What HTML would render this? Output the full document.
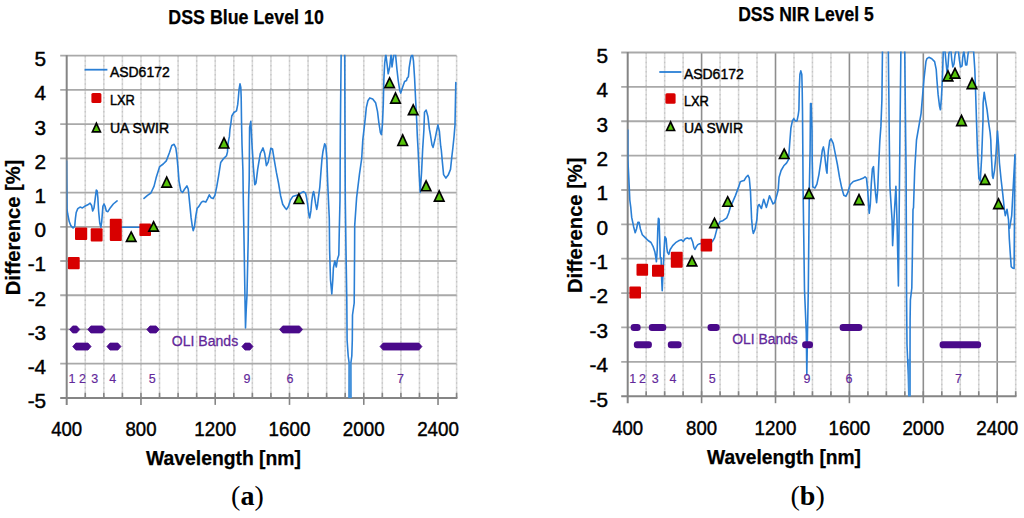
<!DOCTYPE html>
<html><head><meta charset="utf-8"><title>DSS Blue Level 10 / DSS NIR Level 5</title>
<style>html,body{margin:0;padding:0;background:#fff;overflow:hidden}svg{display:block}</style>
</head><body>
<svg width="1024" height="518" viewBox="0 0 1024 518">
<rect width="1024" height="518" fill="#fff"/>
<clipPath id="clipL"><rect x="66.7" y="54.7" width="390.9" height="343.2"/></clipPath>
<line x1="85.27" y1="55.7" x2="85.27" y2="397.9" stroke="#dcdcdc" stroke-width="1.6"/>
<line x1="85.27" y1="55.7" x2="85.27" y2="397.9" stroke="#c4c4c4" stroke-width="1.2" stroke-dasharray="1.5 3.1"/>
<line x1="103.83" y1="55.7" x2="103.83" y2="397.9" stroke="#dcdcdc" stroke-width="1.6"/>
<line x1="103.83" y1="55.7" x2="103.83" y2="397.9" stroke="#c4c4c4" stroke-width="1.2" stroke-dasharray="1.5 3.1"/>
<line x1="122.4" y1="55.7" x2="122.4" y2="397.9" stroke="#dcdcdc" stroke-width="1.6"/>
<line x1="122.4" y1="55.7" x2="122.4" y2="397.9" stroke="#c4c4c4" stroke-width="1.2" stroke-dasharray="1.5 3.1"/>
<line x1="140.97" y1="55.7" x2="140.97" y2="397.9" stroke="#dcdcdc" stroke-width="1.6"/>
<line x1="140.97" y1="55.7" x2="140.97" y2="397.9" stroke="#c4c4c4" stroke-width="1.2" stroke-dasharray="1.5 3.1"/>
<line x1="159.53" y1="55.7" x2="159.53" y2="397.9" stroke="#dcdcdc" stroke-width="1.6"/>
<line x1="159.53" y1="55.7" x2="159.53" y2="397.9" stroke="#c4c4c4" stroke-width="1.2" stroke-dasharray="1.5 3.1"/>
<line x1="178.1" y1="55.7" x2="178.1" y2="397.9" stroke="#dcdcdc" stroke-width="1.6"/>
<line x1="178.1" y1="55.7" x2="178.1" y2="397.9" stroke="#c4c4c4" stroke-width="1.2" stroke-dasharray="1.5 3.1"/>
<line x1="196.67" y1="55.7" x2="196.67" y2="397.9" stroke="#dcdcdc" stroke-width="1.6"/>
<line x1="196.67" y1="55.7" x2="196.67" y2="397.9" stroke="#c4c4c4" stroke-width="1.2" stroke-dasharray="1.5 3.1"/>
<line x1="215.23" y1="55.7" x2="215.23" y2="397.9" stroke="#dcdcdc" stroke-width="1.6"/>
<line x1="215.23" y1="55.7" x2="215.23" y2="397.9" stroke="#c4c4c4" stroke-width="1.2" stroke-dasharray="1.5 3.1"/>
<line x1="233.8" y1="55.7" x2="233.8" y2="397.9" stroke="#dcdcdc" stroke-width="1.6"/>
<line x1="233.8" y1="55.7" x2="233.8" y2="397.9" stroke="#c4c4c4" stroke-width="1.2" stroke-dasharray="1.5 3.1"/>
<line x1="252.37" y1="55.7" x2="252.37" y2="397.9" stroke="#dcdcdc" stroke-width="1.6"/>
<line x1="252.37" y1="55.7" x2="252.37" y2="397.9" stroke="#c4c4c4" stroke-width="1.2" stroke-dasharray="1.5 3.1"/>
<line x1="270.93" y1="55.7" x2="270.93" y2="397.9" stroke="#dcdcdc" stroke-width="1.6"/>
<line x1="270.93" y1="55.7" x2="270.93" y2="397.9" stroke="#c4c4c4" stroke-width="1.2" stroke-dasharray="1.5 3.1"/>
<line x1="289.5" y1="55.7" x2="289.5" y2="397.9" stroke="#dcdcdc" stroke-width="1.6"/>
<line x1="289.5" y1="55.7" x2="289.5" y2="397.9" stroke="#c4c4c4" stroke-width="1.2" stroke-dasharray="1.5 3.1"/>
<line x1="308.07" y1="55.7" x2="308.07" y2="397.9" stroke="#dcdcdc" stroke-width="1.6"/>
<line x1="308.07" y1="55.7" x2="308.07" y2="397.9" stroke="#c4c4c4" stroke-width="1.2" stroke-dasharray="1.5 3.1"/>
<line x1="326.63" y1="55.7" x2="326.63" y2="397.9" stroke="#dcdcdc" stroke-width="1.6"/>
<line x1="326.63" y1="55.7" x2="326.63" y2="397.9" stroke="#c4c4c4" stroke-width="1.2" stroke-dasharray="1.5 3.1"/>
<line x1="345.2" y1="55.7" x2="345.2" y2="397.9" stroke="#dcdcdc" stroke-width="1.6"/>
<line x1="345.2" y1="55.7" x2="345.2" y2="397.9" stroke="#c4c4c4" stroke-width="1.2" stroke-dasharray="1.5 3.1"/>
<line x1="363.77" y1="55.7" x2="363.77" y2="397.9" stroke="#dcdcdc" stroke-width="1.6"/>
<line x1="363.77" y1="55.7" x2="363.77" y2="397.9" stroke="#c4c4c4" stroke-width="1.2" stroke-dasharray="1.5 3.1"/>
<line x1="382.33" y1="55.7" x2="382.33" y2="397.9" stroke="#dcdcdc" stroke-width="1.6"/>
<line x1="382.33" y1="55.7" x2="382.33" y2="397.9" stroke="#c4c4c4" stroke-width="1.2" stroke-dasharray="1.5 3.1"/>
<line x1="400.9" y1="55.7" x2="400.9" y2="397.9" stroke="#dcdcdc" stroke-width="1.6"/>
<line x1="400.9" y1="55.7" x2="400.9" y2="397.9" stroke="#c4c4c4" stroke-width="1.2" stroke-dasharray="1.5 3.1"/>
<line x1="419.47" y1="55.7" x2="419.47" y2="397.9" stroke="#dcdcdc" stroke-width="1.6"/>
<line x1="419.47" y1="55.7" x2="419.47" y2="397.9" stroke="#c4c4c4" stroke-width="1.2" stroke-dasharray="1.5 3.1"/>
<line x1="438.03" y1="55.7" x2="438.03" y2="397.9" stroke="#dcdcdc" stroke-width="1.6"/>
<line x1="438.03" y1="55.7" x2="438.03" y2="397.9" stroke="#c4c4c4" stroke-width="1.2" stroke-dasharray="1.5 3.1"/>
<line x1="456.6" y1="55.7" x2="456.6" y2="397.9" stroke="#dcdcdc" stroke-width="1.6"/>
<line x1="456.6" y1="55.7" x2="456.6" y2="397.9" stroke="#c4c4c4" stroke-width="1.2" stroke-dasharray="1.5 3.1"/>
<line x1="60.2" y1="363.68" x2="456.6" y2="363.68" stroke="#a9a9a9" stroke-width="1.8"/>
<line x1="60.2" y1="329.46" x2="456.6" y2="329.46" stroke="#a9a9a9" stroke-width="1.8"/>
<line x1="60.2" y1="295.24" x2="456.6" y2="295.24" stroke="#a9a9a9" stroke-width="1.8"/>
<line x1="60.2" y1="261.02" x2="456.6" y2="261.02" stroke="#a9a9a9" stroke-width="1.8"/>
<line x1="60.2" y1="226.8" x2="456.6" y2="226.8" stroke="#a9a9a9" stroke-width="1.8"/>
<line x1="60.2" y1="192.58" x2="456.6" y2="192.58" stroke="#a9a9a9" stroke-width="1.8"/>
<line x1="60.2" y1="158.36" x2="456.6" y2="158.36" stroke="#a9a9a9" stroke-width="1.8"/>
<line x1="60.2" y1="124.14" x2="456.6" y2="124.14" stroke="#a9a9a9" stroke-width="1.8"/>
<line x1="60.2" y1="89.92" x2="456.6" y2="89.92" stroke="#a9a9a9" stroke-width="1.8"/>
<line x1="60.2" y1="55.7" x2="456.6" y2="55.7" stroke="#a9a9a9" stroke-width="1.8"/>
<line x1="66.7" y1="55.2" x2="66.7" y2="404.9" stroke="#858585" stroke-width="2"/>
<line x1="60.2" y1="397.9" x2="457.4" y2="397.9" stroke="#858585" stroke-width="2"/>
<line x1="85.27" y1="392.9" x2="85.27" y2="397.9" stroke="#858585" stroke-width="1.6"/>
<line x1="103.83" y1="392.9" x2="103.83" y2="397.9" stroke="#858585" stroke-width="1.6"/>
<line x1="122.4" y1="392.9" x2="122.4" y2="397.9" stroke="#858585" stroke-width="1.6"/>
<line x1="140.97" y1="392.9" x2="140.97" y2="404.9" stroke="#858585" stroke-width="1.6"/>
<line x1="159.53" y1="392.9" x2="159.53" y2="397.9" stroke="#858585" stroke-width="1.6"/>
<line x1="178.1" y1="392.9" x2="178.1" y2="397.9" stroke="#858585" stroke-width="1.6"/>
<line x1="196.67" y1="392.9" x2="196.67" y2="397.9" stroke="#858585" stroke-width="1.6"/>
<line x1="215.23" y1="392.9" x2="215.23" y2="404.9" stroke="#858585" stroke-width="1.6"/>
<line x1="233.8" y1="392.9" x2="233.8" y2="397.9" stroke="#858585" stroke-width="1.6"/>
<line x1="252.37" y1="392.9" x2="252.37" y2="397.9" stroke="#858585" stroke-width="1.6"/>
<line x1="270.93" y1="392.9" x2="270.93" y2="397.9" stroke="#858585" stroke-width="1.6"/>
<line x1="289.5" y1="392.9" x2="289.5" y2="404.9" stroke="#858585" stroke-width="1.6"/>
<line x1="308.07" y1="392.9" x2="308.07" y2="397.9" stroke="#858585" stroke-width="1.6"/>
<line x1="326.63" y1="392.9" x2="326.63" y2="397.9" stroke="#858585" stroke-width="1.6"/>
<line x1="345.2" y1="392.9" x2="345.2" y2="397.9" stroke="#858585" stroke-width="1.6"/>
<line x1="363.77" y1="392.9" x2="363.77" y2="404.9" stroke="#858585" stroke-width="1.6"/>
<line x1="382.33" y1="392.9" x2="382.33" y2="397.9" stroke="#858585" stroke-width="1.6"/>
<line x1="400.9" y1="392.9" x2="400.9" y2="397.9" stroke="#858585" stroke-width="1.6"/>
<line x1="419.47" y1="392.9" x2="419.47" y2="397.9" stroke="#858585" stroke-width="1.6"/>
<line x1="438.03" y1="392.9" x2="438.03" y2="404.9" stroke="#858585" stroke-width="1.6"/>
<line x1="456.6" y1="392.9" x2="456.6" y2="397.9" stroke="#858585" stroke-width="1.6"/>
<clipPath id="clipR"><rect x="627.7" y="51.5" width="389" height="344.7"/></clipPath>
<line x1="646.18" y1="52.5" x2="646.18" y2="396.2" stroke="#dcdcdc" stroke-width="1.6"/>
<line x1="646.18" y1="52.5" x2="646.18" y2="396.2" stroke="#c4c4c4" stroke-width="1.2" stroke-dasharray="1.5 3.1"/>
<line x1="664.65" y1="52.5" x2="664.65" y2="396.2" stroke="#dcdcdc" stroke-width="1.6"/>
<line x1="664.65" y1="52.5" x2="664.65" y2="396.2" stroke="#c4c4c4" stroke-width="1.2" stroke-dasharray="1.5 3.1"/>
<line x1="683.13" y1="52.5" x2="683.13" y2="396.2" stroke="#dcdcdc" stroke-width="1.6"/>
<line x1="683.13" y1="52.5" x2="683.13" y2="396.2" stroke="#c4c4c4" stroke-width="1.2" stroke-dasharray="1.5 3.1"/>
<line x1="701.6" y1="52.5" x2="701.6" y2="396.2" stroke="#8e8e8e" stroke-width="1.6"/>
<line x1="720.08" y1="52.5" x2="720.08" y2="396.2" stroke="#dcdcdc" stroke-width="1.6"/>
<line x1="720.08" y1="52.5" x2="720.08" y2="396.2" stroke="#c4c4c4" stroke-width="1.2" stroke-dasharray="1.5 3.1"/>
<line x1="738.56" y1="52.5" x2="738.56" y2="396.2" stroke="#dcdcdc" stroke-width="1.6"/>
<line x1="738.56" y1="52.5" x2="738.56" y2="396.2" stroke="#c4c4c4" stroke-width="1.2" stroke-dasharray="1.5 3.1"/>
<line x1="757.03" y1="52.5" x2="757.03" y2="396.2" stroke="#dcdcdc" stroke-width="1.6"/>
<line x1="757.03" y1="52.5" x2="757.03" y2="396.2" stroke="#c4c4c4" stroke-width="1.2" stroke-dasharray="1.5 3.1"/>
<line x1="775.51" y1="52.5" x2="775.51" y2="396.2" stroke="#8e8e8e" stroke-width="1.6"/>
<line x1="793.99" y1="52.5" x2="793.99" y2="396.2" stroke="#dcdcdc" stroke-width="1.6"/>
<line x1="793.99" y1="52.5" x2="793.99" y2="396.2" stroke="#c4c4c4" stroke-width="1.2" stroke-dasharray="1.5 3.1"/>
<line x1="812.46" y1="52.5" x2="812.46" y2="396.2" stroke="#dcdcdc" stroke-width="1.6"/>
<line x1="812.46" y1="52.5" x2="812.46" y2="396.2" stroke="#c4c4c4" stroke-width="1.2" stroke-dasharray="1.5 3.1"/>
<line x1="830.94" y1="52.5" x2="830.94" y2="396.2" stroke="#dcdcdc" stroke-width="1.6"/>
<line x1="830.94" y1="52.5" x2="830.94" y2="396.2" stroke="#c4c4c4" stroke-width="1.2" stroke-dasharray="1.5 3.1"/>
<line x1="849.41" y1="52.5" x2="849.41" y2="396.2" stroke="#8e8e8e" stroke-width="1.6"/>
<line x1="867.89" y1="52.5" x2="867.89" y2="396.2" stroke="#dcdcdc" stroke-width="1.6"/>
<line x1="867.89" y1="52.5" x2="867.89" y2="396.2" stroke="#c4c4c4" stroke-width="1.2" stroke-dasharray="1.5 3.1"/>
<line x1="886.37" y1="52.5" x2="886.37" y2="396.2" stroke="#dcdcdc" stroke-width="1.6"/>
<line x1="886.37" y1="52.5" x2="886.37" y2="396.2" stroke="#c4c4c4" stroke-width="1.2" stroke-dasharray="1.5 3.1"/>
<line x1="904.84" y1="52.5" x2="904.84" y2="396.2" stroke="#dcdcdc" stroke-width="1.6"/>
<line x1="904.84" y1="52.5" x2="904.84" y2="396.2" stroke="#c4c4c4" stroke-width="1.2" stroke-dasharray="1.5 3.1"/>
<line x1="923.32" y1="52.5" x2="923.32" y2="396.2" stroke="#8e8e8e" stroke-width="1.6"/>
<line x1="941.8" y1="52.5" x2="941.8" y2="396.2" stroke="#dcdcdc" stroke-width="1.6"/>
<line x1="941.8" y1="52.5" x2="941.8" y2="396.2" stroke="#c4c4c4" stroke-width="1.2" stroke-dasharray="1.5 3.1"/>
<line x1="960.27" y1="52.5" x2="960.27" y2="396.2" stroke="#dcdcdc" stroke-width="1.6"/>
<line x1="960.27" y1="52.5" x2="960.27" y2="396.2" stroke="#c4c4c4" stroke-width="1.2" stroke-dasharray="1.5 3.1"/>
<line x1="978.75" y1="52.5" x2="978.75" y2="396.2" stroke="#dcdcdc" stroke-width="1.6"/>
<line x1="978.75" y1="52.5" x2="978.75" y2="396.2" stroke="#c4c4c4" stroke-width="1.2" stroke-dasharray="1.5 3.1"/>
<line x1="997.22" y1="52.5" x2="997.22" y2="396.2" stroke="#8e8e8e" stroke-width="1.6"/>
<line x1="1015.7" y1="52.5" x2="1015.7" y2="396.2" stroke="#dcdcdc" stroke-width="1.6"/>
<line x1="1015.7" y1="52.5" x2="1015.7" y2="396.2" stroke="#c4c4c4" stroke-width="1.2" stroke-dasharray="1.5 3.1"/>
<line x1="621.2" y1="361.83" x2="1015.7" y2="361.83" stroke="#a9a9a9" stroke-width="1.8"/>
<line x1="621.2" y1="327.46" x2="1015.7" y2="327.46" stroke="#a9a9a9" stroke-width="1.8"/>
<line x1="621.2" y1="293.09" x2="1015.7" y2="293.09" stroke="#a9a9a9" stroke-width="1.8"/>
<line x1="621.2" y1="258.72" x2="1015.7" y2="258.72" stroke="#a9a9a9" stroke-width="1.8"/>
<line x1="621.2" y1="224.35" x2="1015.7" y2="224.35" stroke="#a9a9a9" stroke-width="1.8"/>
<line x1="621.2" y1="189.98" x2="1015.7" y2="189.98" stroke="#a9a9a9" stroke-width="1.8"/>
<line x1="621.2" y1="155.61" x2="1015.7" y2="155.61" stroke="#a9a9a9" stroke-width="1.8"/>
<line x1="621.2" y1="121.24" x2="1015.7" y2="121.24" stroke="#a9a9a9" stroke-width="1.8"/>
<line x1="621.2" y1="86.87" x2="1015.7" y2="86.87" stroke="#a9a9a9" stroke-width="1.8"/>
<line x1="621.2" y1="52.5" x2="1015.7" y2="52.5" stroke="#a9a9a9" stroke-width="1.8"/>
<line x1="627.7" y1="52" x2="627.7" y2="403.2" stroke="#858585" stroke-width="2"/>
<line x1="621.2" y1="396.2" x2="1016.5" y2="396.2" stroke="#858585" stroke-width="2"/>
<line x1="646.18" y1="391.2" x2="646.18" y2="396.2" stroke="#858585" stroke-width="1.6"/>
<line x1="664.65" y1="391.2" x2="664.65" y2="396.2" stroke="#858585" stroke-width="1.6"/>
<line x1="683.13" y1="391.2" x2="683.13" y2="396.2" stroke="#858585" stroke-width="1.6"/>
<line x1="701.6" y1="391.2" x2="701.6" y2="403.2" stroke="#858585" stroke-width="1.6"/>
<line x1="720.08" y1="391.2" x2="720.08" y2="396.2" stroke="#858585" stroke-width="1.6"/>
<line x1="738.56" y1="391.2" x2="738.56" y2="396.2" stroke="#858585" stroke-width="1.6"/>
<line x1="757.03" y1="391.2" x2="757.03" y2="396.2" stroke="#858585" stroke-width="1.6"/>
<line x1="775.51" y1="391.2" x2="775.51" y2="403.2" stroke="#858585" stroke-width="1.6"/>
<line x1="793.99" y1="391.2" x2="793.99" y2="396.2" stroke="#858585" stroke-width="1.6"/>
<line x1="812.46" y1="391.2" x2="812.46" y2="396.2" stroke="#858585" stroke-width="1.6"/>
<line x1="830.94" y1="391.2" x2="830.94" y2="396.2" stroke="#858585" stroke-width="1.6"/>
<line x1="849.41" y1="391.2" x2="849.41" y2="403.2" stroke="#858585" stroke-width="1.6"/>
<line x1="867.89" y1="391.2" x2="867.89" y2="396.2" stroke="#858585" stroke-width="1.6"/>
<line x1="886.37" y1="391.2" x2="886.37" y2="396.2" stroke="#858585" stroke-width="1.6"/>
<line x1="904.84" y1="391.2" x2="904.84" y2="396.2" stroke="#858585" stroke-width="1.6"/>
<line x1="923.32" y1="391.2" x2="923.32" y2="403.2" stroke="#858585" stroke-width="1.6"/>
<line x1="941.8" y1="391.2" x2="941.8" y2="396.2" stroke="#858585" stroke-width="1.6"/>
<line x1="960.27" y1="391.2" x2="960.27" y2="396.2" stroke="#858585" stroke-width="1.6"/>
<line x1="978.75" y1="391.2" x2="978.75" y2="396.2" stroke="#858585" stroke-width="1.6"/>
<line x1="997.22" y1="391.2" x2="997.22" y2="403.2" stroke="#858585" stroke-width="1.6"/>
<line x1="1015.7" y1="391.2" x2="1015.7" y2="396.2" stroke="#858585" stroke-width="1.6"/>
<line x1="84.6" y1="69.7" x2="107.4" y2="69.7" stroke="#2a7fd5" stroke-width="1.8"/>
<text x="109.9" y="76.7" font-size="15.2" font-family='"Liberation Sans", sans-serif' textLength="59.8" lengthAdjust="spacingAndGlyphs" fill="#000" stroke="#000" stroke-width="0.45">ASD6172</text>
<text x="109.9" y="104.9" font-size="15.2" font-family='"Liberation Sans", sans-serif' textLength="25" lengthAdjust="spacingAndGlyphs" fill="#000" stroke="#000" stroke-width="0.45">LXR</text>
<text x="109.9" y="133.2" font-size="15.2" font-family='"Liberation Sans", sans-serif' textLength="59.2" lengthAdjust="spacingAndGlyphs" fill="#000" stroke="#000" stroke-width="0.45">UA SWIR</text>
<rect x="91.4" y="93.0" width="10" height="10" rx="1.5" fill="#d80000"/>
<polygon points="96.4,121.2 101.7,132.7 91.1,132.7" fill="#000"/>
<polygon points="96.4,125.14 99.12,131.05 93.68,131.05" fill="#56c20a"/>
<line x1="659.3" y1="72.0" x2="681.4" y2="72.0" stroke="#2a7fd5" stroke-width="1.8"/>
<text x="683.9" y="78.9" font-size="15.2" font-family='"Liberation Sans", sans-serif' textLength="59.8" lengthAdjust="spacingAndGlyphs" fill="#000" stroke="#000" stroke-width="0.45">ASD6172</text>
<text x="683.9" y="105.9" font-size="15.2" font-family='"Liberation Sans", sans-serif' textLength="25" lengthAdjust="spacingAndGlyphs" fill="#000" stroke="#000" stroke-width="0.45">LXR</text>
<text x="683.9" y="133" font-size="15.2" font-family='"Liberation Sans", sans-serif' textLength="59.2" lengthAdjust="spacingAndGlyphs" fill="#000" stroke="#000" stroke-width="0.45">UA SWIR</text>
<rect x="665.4" y="93.2" width="10.2" height="10.6" rx="1.5" fill="#d80000"/>
<polygon points="670.6,120.1 675.9,131.3 665.3,131.3" fill="#000"/>
<polygon points="670.6,123.96 673.29,129.65 667.91,129.65" fill="#56c20a"/>
<polyline points="66.5,161 66.6,175 66.8,192.4 67,209.4 67.7,214 69.3,221.8 70.8,225.6 73.1,228 74.7,226.4 75.4,218.7 76.2,212.5 77.8,208.6 80.1,207.1 82.4,207.9 84.7,206.3 87.8,204.8 90.1,203.2 91.6,205.5 92.7,211 94,207.9 95.2,198.6 96.3,190.1 97.1,190.9 97.8,197 98.6,211 99.8,223.3 100.9,227.2 101.7,221.8 102.9,206.3 104,204 105.1,206.3 106.3,211 107.9,211.7 110.2,207.9 113.3,204 117.1,200.9" fill="none" stroke="#2a7fd5" stroke-width="1.6" stroke-linejoin="round" stroke-linecap="round" clip-path="url(#clipL)"/>
<polyline points="111,227.3 142,227.3" fill="none" stroke="#2a7fd5" stroke-width="1.6" stroke-linejoin="round" stroke-linecap="round" clip-path="url(#clipL)"/>
<polyline points="144,198.4 147.5,195.4 150.9,193 154,186.4 156.2,177.6 159.7,166.6 163.2,164 166.3,160.9 169.5,152.5 171.8,145.5 174.1,144.3 175.8,147.8 176.8,155 178.1,168.8 179,181.1 180.8,190.8 182.5,192.5 184.7,189 186.9,185.9 188.2,189 188.7,193.4 189.9,205.6 191.1,217.7 192.3,226.4 193.2,230.7 194.5,226.4 195.8,216 197.2,208.2 198.9,206.4 201.5,202.1 203.2,201.2 205.8,202.1 207.6,198.6 209.3,194.8 211,197.7 213.1,198.6 215,195.2 216.8,186.4 218.6,175.8 220.7,162.5 223.6,158.6 226.5,155.7 227.5,151.9 227.7,147 228.4,141.3 229.4,136.4 229.9,129.7 230.8,123.9 231.8,116 233.9,112.5 236.5,110.8 237.7,104.7 238.2,99.5 239.1,89.1 240,83.9 240.8,87.4 241.2,97.8 241.5,120 242,144.2 242.9,170 243.3,200 244.2,250 245,300 245.5,328 246.2,310 247,294.6 248.2,240 248.6,200 249.2,179.6 249.6,127.4 250.8,121.3 252,144.8 253.4,167.4 254.8,184.8 256,183 257.7,169.1 260.3,153.5 263,147.9 264.7,153.5 266.4,165.7 268.2,162.2 270.8,148.3 272.5,149 274.2,159.7 276.4,172.4 278.5,183 280.6,195.7 282.7,204.2 285,207.8 286.5,209.4 288.5,206.3 290.4,200.1 292.7,196.6 295,195.8 298.6,194.7 301.2,192.8 303.5,191.6 305.5,193.1 306.6,197.8 307.8,205.5 309,215.5 309.7,217.9 310.9,210.9 311.7,201.6 312.8,193.9 313.6,191.6 314.4,195.5 315.5,203.2 316.7,209.4 317.5,205.5 318.2,199.3 319.8,187.2 320.9,172.4 321.9,159.7 323,151.2 324.7,143.8 325.8,145.9 326.8,157.6 327.7,183 329.3,218.7 329.6,250 330.5,280 331.8,294 332.8,280 333.4,268 334.8,261 336.3,267 337.5,259 338.8,255 339.3,230 340,200 340.3,140 340.6,105.6 341.2,50 344.7,50 345,140 345.3,200 346,250 346.8,300 347.1,340 348.2,356 349.4,365 349.2,402 350.8,402 350.6,365 351.8,356 352.3,340 352.5,315 354.2,303 354.6,250 354.7,225.6 356.6,197.9 359.4,174.7 361.7,158.5 362.8,140 365.4,117.2 366.3,107.6 367.9,100.8 369.8,97.9 372.7,98.9 375.6,102.7 377.5,111.4 378.9,123 380.4,132.7 381.4,134.6 382.4,125 383.3,103.7 383.9,78.6 384.7,63.2 385.8,54 387.2,65.1 388.2,73.8 389.7,67 391.1,54 392,67 393,60 394,54 395.5,54 396.9,69 398.2,80.5 399.7,90.2 400.7,93.1 402.6,87.3 404.6,81.5 406.5,80.5 407.1,78.2 408.4,76.7 409.2,67.6 410.9,57 412.4,54 413.5,61.2 414.6,78.2 415.6,99.5 416.7,120.7 417.3,135.6 418.1,150 419.3,176.3 420.2,192.4 421.6,171.7 422.7,148.5 423.9,130 424.5,112.2 426.2,110.1 427.9,116.4 429.4,129.2 430.4,134.6 432,145 433.1,147.4 435,139.3 436.6,131.2 437.9,124.9 439.4,131.3 440.7,146.2 441.3,150 442.4,162.4 443.6,174.6 445.9,178.1 448.2,175.1 450.5,169.4 451.7,157.8 452.8,148.5 454,137 455,125 455.8,82.5" fill="none" stroke="#2a7fd5" stroke-width="1.6" stroke-linejoin="round" stroke-linecap="round" clip-path="url(#clipL)"/>
<polyline points="627.8,130 627.8,158.6 628.8,177.9 629.7,197.2 629.8,200 630.8,207.7 631.7,217.4 633.7,227 635.2,232.8 636.5,229 637.9,222.2 639.1,222.2 640.4,229 642.3,234.7 645.2,237.6 648.1,240.5 651,242.5 653,246.3 654.9,252.1 655.9,257.9 656.4,261.8 657.2,250.2 657.8,229 658.4,218.3 659.1,219.3 659.7,238.6 660.3,257.9 661.1,257.9 661.6,277.2 662.2,290.7 663.2,267.6 664.2,248.3 664.9,236.7 666.1,238.6 666.9,248.3 667.5,252.4 668.8,254.3 670.2,249.5 672.7,245.6 675.6,242.7 678.5,240.8 681.4,239.8 683.3,241.4 685.2,238.8 687.2,237.9 689.1,238.8 691,237.9 692.6,241.7 693.9,247.5 694.9,249.5 696.4,246.6 697.8,244.6 699.7,243.7 706,243 712.2,241.7 714.6,237.9 716.1,232.1 717.6,226.3 720,221.5 722.9,220.7 726.8,217.8 728.7,213 730.6,206.2 732.5,202.4 735.4,195.6 738.3,187.9 740.3,181.7 742.2,181.1 744.1,180.5 746,177.3 748,175.3 749.3,178.2 750.5,191.7 751.6,218.9 752.5,229.4 753.3,233.4 755,229.4 756.8,220.1 757.9,206.2 759.1,204.5 761.4,208.5 763.7,199.3 766.4,207.4 769.5,195.8 773,203.9 774.7,202.7 777,194.6 778.2,190 779.1,177.3 781.1,170.5 783.8,165.8 786.5,163.1 788.5,159.7 789.2,150.3 789.9,140.8 790.9,128.1 792.4,120.9 793.8,118.7 795.3,120.9 797,120.9 798.2,115.1 798.9,110 799.3,89 799.9,74.5 800.8,70.9 801.8,74.5 802.2,89 802.5,110.7 802.7,135 803.1,190 804.5,290 806.3,333 806.8,375 807.5,333 808.3,290 809.3,190 810.1,150 810.5,103.5 811.2,103.5 812,130 812.2,160 812.8,186.8 814.9,188.1 816.9,184.1 818.9,174.6 820.9,161.1 822.3,150.3 823.4,146.9 824.3,151.6 825.3,161.1 826.4,170.5 827,173.2 827.4,163.8 828.4,150.3 829.7,140.8 831.1,138.8 833.2,143.3 835.3,153.9 837.4,164.5 839.5,177.2 841.7,187.8 843.8,195.3 845.9,196.3 848,192.1 850.1,184.7 853.3,181.5 856.5,180.4 859.7,179.4 862.9,178.3 865,176.8 866.5,178.3 867.7,190 868.6,204.8 869.2,213.3 870.3,204.8 871.3,183.6 872.4,168.8 873.5,166.6 874.5,181.5 875.6,194.2 876.6,202.7 877.7,190 878.8,162.4 879.8,141.2 880.9,126.4 881.9,100 882.5,48 888.3,48 888.9,100 889.3,140 889.9,186.3 892.1,220.4 892.6,245.6 894.5,210 895.9,186.4 897,220 898.4,285.9 899.1,220.4 899.6,170 899.9,140 900.9,48 904.7,48 905.7,140 906.1,170 906.6,300 907,345 908.3,375 908.9,400 909.9,400 910,365 910.1,320 910.4,300 911.8,288 912.3,260 913,209.4 913.5,207.8 914.7,170 916.5,140 921.1,113.3 924,78.6 926,61.2 926.9,58.7 928.9,57.3 931.8,58.7 934.6,61.6 936.2,69.3 937,80.9 938.1,94.4 939.5,106 940.4,109.8 941.4,98.2 942.4,78.9 943.3,51 945,51 946,62 947,72 948,66 948.8,54 949.6,51 951,51 951.8,60 952.8,67 954,64 955,55 956,51 958.4,51 959.4,60 960.5,67 962,66 962.8,57 963.8,51 964.6,56 965.6,65 966.8,65 967.8,56 968.5,51 973.6,51 974.8,69.3 975.5,88.6 976.1,107.9 976.7,127.2 977.5,151.9 978.9,178.4 980.3,181.1 980.9,170.3 981.6,158.1 982.3,140 983,120 983.1,103.2 984.2,92.4 985.4,100.1 987,109.4 988.5,121.7 990.1,132.5 990.8,140 991.1,150 992.4,175.7 993.1,178.4 994.5,170.3 995.8,156.8 997.5,131 998.6,145.5 999.4,162.5 1001.1,179.5 1002.8,194.3 1004.3,209.2 1005.3,215.6 1007,209.2 1008.5,219.8 1009.3,238.6 1010.3,254 1011.2,266.6 1012.5,268 1014.1,268.5 1014.9,154.5" fill="none" stroke="#2a7fd5" stroke-width="1.6" stroke-linejoin="round" stroke-linecap="round" clip-path="url(#clipR)"/>
<polyline points="909.4,360 909.4,397" fill="none" stroke="#4592db" stroke-width="2.6" stroke-linejoin="round" stroke-linecap="round" clip-path="url(#clipR)"/>
<polyline points="1009.6,228.3 1011.7,215.6 1013.4,183.7 1014.9,156.1" fill="none" stroke="#2a7fd5" stroke-width="1.6" stroke-linejoin="round" stroke-linecap="round" clip-path="url(#clipR)"/>
<polyline points="350,364 350,400" fill="none" stroke="#4592db" stroke-width="3.2" stroke-linejoin="round" stroke-linecap="round" clip-path="url(#clipL)"/>
<polygon points="69.6,329.46 72.7,325.96 76.67,325.96 79.77,329.46 76.67,332.96 72.7,332.96" fill="#4a0a8a" stroke="#4a0a8a" stroke-width="0.8" stroke-linejoin="round"/>
<rect x="630.67" y="323.96" width="9.96" height="7" rx="3.2" fill="#4a0a8a"/>
<polygon points="72.75,346.57 75.85,343.07 87.99,343.07 91.09,346.57 87.99,350.07 75.85,350.07" fill="#4a0a8a" stroke="#4a0a8a" stroke-width="0.8" stroke-linejoin="round"/>
<rect x="633.81" y="341.14" width="18.09" height="7" rx="3.2" fill="#4a0a8a"/>
<polygon points="87.79,329.46 90.89,325.96 102.48,325.96 105.58,329.46 102.48,332.96 90.89,332.96" fill="#4a0a8a" stroke="#4a0a8a" stroke-width="0.8" stroke-linejoin="round"/>
<rect x="648.77" y="323.96" width="17.53" height="7" rx="3.2" fill="#4a0a8a"/>
<polygon points="106.92,346.57 110.02,343.07 117.89,343.07 120.99,346.57 117.89,350.07 110.02,350.07" fill="#4a0a8a" stroke="#4a0a8a" stroke-width="0.8" stroke-linejoin="round"/>
<rect x="667.8" y="341.14" width="13.84" height="7" rx="3.2" fill="#4a0a8a"/>
<polygon points="146.84,329.46 149.94,325.96 156.13,325.96 159.23,329.46 156.13,332.96 149.94,332.96" fill="#4a0a8a" stroke="#4a0a8a" stroke-width="0.8" stroke-linejoin="round"/>
<rect x="707.53" y="323.96" width="12.17" height="7" rx="3.2" fill="#4a0a8a"/>
<polygon points="279.59,329.46 282.69,325.96 299.47,325.96 302.57,329.46 299.47,332.96 282.69,332.96" fill="#4a0a8a" stroke="#4a0a8a" stroke-width="0.8" stroke-linejoin="round"/>
<rect x="839.63" y="323.96" width="22.7" height="7" rx="3.2" fill="#4a0a8a"/>
<polygon points="380.03,346.57 383.13,343.07 418.85,343.07 421.95,346.57 418.85,350.07 383.13,350.07" fill="#4a0a8a" stroke="#4a0a8a" stroke-width="0.8" stroke-linejoin="round"/>
<rect x="939.59" y="341.14" width="41.55" height="7" rx="3.2" fill="#4a0a8a"/>
<polygon points="241.9,346.57 245,343.07 249.9,343.07 253,346.57 249.9,350.07 245,350.07" fill="#4a0a8a" stroke="#4a0a8a" stroke-width="0.8" stroke-linejoin="round"/>
<rect x="802.13" y="341.14" width="10.88" height="7" rx="3.2" fill="#4a0a8a"/>
<rect x="67.9" y="256.9" width="11.8" height="12.3" rx="1" fill="#d80000"/>
<rect x="75" y="227.5" width="12.2" height="12.4" rx="1" fill="#d80000"/>
<rect x="90.7" y="228.3" width="11.9" height="13.1" rx="1" fill="#d80000"/>
<rect x="109.8" y="218.7" width="12" height="22.3" rx="1" fill="#d80000"/>
<rect x="139.4" y="223.6" width="11.6" height="12.5" rx="1" fill="#d80000"/>
<rect x="629.4" y="286.5" width="11.6" height="12" rx="1" fill="#d80000"/>
<rect x="636.5" y="263.7" width="11.6" height="12" rx="1" fill="#d80000"/>
<rect x="652" y="264.7" width="12" height="12.1" rx="1" fill="#d80000"/>
<rect x="670.8" y="251.8" width="11.9" height="16" rx="1" fill="#d80000"/>
<rect x="700.7" y="238.8" width="11.5" height="12.6" rx="1" fill="#d80000"/>
<polygon points="131.2,230.2 137.3,242.2 125.1,242.2" fill="#000"/>
<polygon points="131.2,233.84 134.61,240.55 127.79,240.55" fill="#56c20a"/>
<polygon points="153.6,220 159.7,232 147.5,232" fill="#000"/>
<polygon points="153.6,223.64 157.01,230.35 150.19,230.35" fill="#56c20a"/>
<polygon points="166.7,175.3 172.8,188 160.6,188" fill="#000"/>
<polygon points="166.7,179.11 170.18,186.35 163.22,186.35" fill="#56c20a"/>
<polygon points="224,135.9 230.1,148.8 217.9,148.8" fill="#000"/>
<polygon points="224,139.76 227.49,147.15 220.51,147.15" fill="#56c20a"/>
<polygon points="298.9,192.1 305,204.3 292.8,204.3" fill="#000"/>
<polygon points="298.9,195.79 302.33,202.65 295.47,202.65" fill="#56c20a"/>
<polygon points="389.6,75.9 395.7,88.5 383.5,88.5" fill="#000"/>
<polygon points="389.6,79.69 393.07,86.85 386.13,86.85" fill="#56c20a"/>
<polygon points="395.5,91 401.6,104 389.4,104" fill="#000"/>
<polygon points="395.5,94.88 399,102.35 392,102.35" fill="#56c20a"/>
<polygon points="402.7,133 408.8,146.3 396.6,146.3" fill="#000"/>
<polygon points="402.7,136.96 406.23,144.65 399.17,144.65" fill="#56c20a"/>
<polygon points="413.2,102.9 419.3,115.4 407.1,115.4" fill="#000"/>
<polygon points="413.2,106.66 416.66,113.75 409.74,113.75" fill="#56c20a"/>
<polygon points="426.1,179 432.2,191.6 420,191.6" fill="#000"/>
<polygon points="426.1,182.79 429.57,189.95 422.63,189.95" fill="#56c20a"/>
<polygon points="439.2,189 445.3,202 433.1,202" fill="#000"/>
<polygon points="439.2,192.88 442.7,200.35 435.7,200.35" fill="#56c20a"/>
<polygon points="692,254.6 698.1,266.7 685.9,266.7" fill="#000"/>
<polygon points="692,258.27 695.42,265.05 688.58,265.05" fill="#56c20a"/>
<polygon points="714.5,216.4 720.6,228.5 708.4,228.5" fill="#000"/>
<polygon points="714.5,220.07 717.92,226.85 711.08,226.85" fill="#56c20a"/>
<polygon points="727.7,194.9 733.8,207.1 721.6,207.1" fill="#000"/>
<polygon points="727.7,198.59 731.13,205.45 724.27,205.45" fill="#56c20a"/>
<polygon points="784.2,147.3 790.3,159.3 778.1,159.3" fill="#000"/>
<polygon points="784.2,150.94 787.61,157.65 780.79,157.65" fill="#56c20a"/>
<polygon points="809,187.1 815.1,199.2 802.9,199.2" fill="#000"/>
<polygon points="809,190.77 812.42,197.55 805.58,197.55" fill="#56c20a"/>
<polygon points="859,192.8 865.1,205.5 852.9,205.5" fill="#000"/>
<polygon points="859,196.61 862.48,203.85 855.52,203.85" fill="#56c20a"/>
<polygon points="948,68.9 954.1,81.7 941.9,81.7" fill="#000"/>
<polygon points="948,72.74 951.49,80.05 944.51,80.05" fill="#56c20a"/>
<polygon points="955,66.5 961.1,78.9 948.9,78.9" fill="#000"/>
<polygon points="955,70.24 958.45,77.25 951.55,77.25" fill="#56c20a"/>
<polygon points="972,76.6 978.1,89.4 965.9,89.4" fill="#000"/>
<polygon points="972,80.44 975.49,87.75 968.51,87.75" fill="#56c20a"/>
<polygon points="961.5,113.5 967.6,126.5 955.4,126.5" fill="#000"/>
<polygon points="961.5,117.38 965,124.85 958,124.85" fill="#56c20a"/>
<polygon points="985,172.9 991.1,185.2 978.9,185.2" fill="#000"/>
<polygon points="985,176.61 988.44,183.55 981.56,183.55" fill="#56c20a"/>
<polygon points="998.5,197 1004.6,209.5 992.4,209.5" fill="#000"/>
<polygon points="998.5,200.76 1001.96,207.85 995.04,207.85" fill="#56c20a"/>
<text x="168.3" y="23.6" font-size="20.5" font-family='"Liberation Sans", sans-serif' font-weight="bold" textLength="155.5" lengthAdjust="spacingAndGlyphs" fill="#000" stroke="#000" stroke-width="0.25">DSS Blue Level 10</text>
<text x="738.2" y="20.6" font-size="20.5" font-family='"Liberation Sans", sans-serif' font-weight="bold" textLength="135.5" lengthAdjust="spacingAndGlyphs" fill="#000" stroke="#000" stroke-width="0.25">DSS NIR Level 5</text>
<text x="46.2" y="408.3" font-size="20.8" font-family='"Liberation Sans", sans-serif' text-anchor="end" fill="#000" stroke="#000" stroke-width="0.45">-5</text>
<text x="46.2" y="374.08" font-size="20.8" font-family='"Liberation Sans", sans-serif' text-anchor="end" fill="#000" stroke="#000" stroke-width="0.45">-4</text>
<text x="46.2" y="339.86" font-size="20.8" font-family='"Liberation Sans", sans-serif' text-anchor="end" fill="#000" stroke="#000" stroke-width="0.45">-3</text>
<text x="46.2" y="305.64" font-size="20.8" font-family='"Liberation Sans", sans-serif' text-anchor="end" fill="#000" stroke="#000" stroke-width="0.45">-2</text>
<text x="46.2" y="271.42" font-size="20.8" font-family='"Liberation Sans", sans-serif' text-anchor="end" fill="#000" stroke="#000" stroke-width="0.45">-1</text>
<text x="46.2" y="237.2" font-size="20.8" font-family='"Liberation Sans", sans-serif' text-anchor="end" fill="#000" stroke="#000" stroke-width="0.45">0</text>
<text x="46.2" y="202.98" font-size="20.8" font-family='"Liberation Sans", sans-serif' text-anchor="end" fill="#000" stroke="#000" stroke-width="0.45">1</text>
<text x="46.2" y="168.76" font-size="20.8" font-family='"Liberation Sans", sans-serif' text-anchor="end" fill="#000" stroke="#000" stroke-width="0.45">2</text>
<text x="46.2" y="134.54" font-size="20.8" font-family='"Liberation Sans", sans-serif' text-anchor="end" fill="#000" stroke="#000" stroke-width="0.45">3</text>
<text x="46.2" y="100.32" font-size="20.8" font-family='"Liberation Sans", sans-serif' text-anchor="end" fill="#000" stroke="#000" stroke-width="0.45">4</text>
<text x="46.2" y="66.1" font-size="20.8" font-family='"Liberation Sans", sans-serif' text-anchor="end" fill="#000" stroke="#000" stroke-width="0.45">5</text>
<text x="608" y="406.6" font-size="20.8" font-family='"Liberation Sans", sans-serif' text-anchor="end" fill="#000" stroke="#000" stroke-width="0.45">-5</text>
<text x="608" y="372.23" font-size="20.8" font-family='"Liberation Sans", sans-serif' text-anchor="end" fill="#000" stroke="#000" stroke-width="0.45">-4</text>
<text x="608" y="337.86" font-size="20.8" font-family='"Liberation Sans", sans-serif' text-anchor="end" fill="#000" stroke="#000" stroke-width="0.45">-3</text>
<text x="608" y="303.49" font-size="20.8" font-family='"Liberation Sans", sans-serif' text-anchor="end" fill="#000" stroke="#000" stroke-width="0.45">-2</text>
<text x="608" y="269.12" font-size="20.8" font-family='"Liberation Sans", sans-serif' text-anchor="end" fill="#000" stroke="#000" stroke-width="0.45">-1</text>
<text x="608" y="234.75" font-size="20.8" font-family='"Liberation Sans", sans-serif' text-anchor="end" fill="#000" stroke="#000" stroke-width="0.45">0</text>
<text x="608" y="200.38" font-size="20.8" font-family='"Liberation Sans", sans-serif' text-anchor="end" fill="#000" stroke="#000" stroke-width="0.45">1</text>
<text x="608" y="166.01" font-size="20.8" font-family='"Liberation Sans", sans-serif' text-anchor="end" fill="#000" stroke="#000" stroke-width="0.45">2</text>
<text x="608" y="131.64" font-size="20.8" font-family='"Liberation Sans", sans-serif' text-anchor="end" fill="#000" stroke="#000" stroke-width="0.45">3</text>
<text x="608" y="97.27" font-size="20.8" font-family='"Liberation Sans", sans-serif' text-anchor="end" fill="#000" stroke="#000" stroke-width="0.45">4</text>
<text x="608" y="62.9" font-size="20.8" font-family='"Liberation Sans", sans-serif' text-anchor="end" fill="#000" stroke="#000" stroke-width="0.45">5</text>
<text x="66.7" y="436.3" font-size="20.8" font-family='"Liberation Sans", sans-serif' text-anchor="middle" textLength="31" lengthAdjust="spacingAndGlyphs" fill="#000" stroke="#000" stroke-width="0.45">400</text>
<text x="140.97" y="436.3" font-size="20.8" font-family='"Liberation Sans", sans-serif' text-anchor="middle" textLength="31" lengthAdjust="spacingAndGlyphs" fill="#000" stroke="#000" stroke-width="0.45">800</text>
<text x="215.23" y="436.3" font-size="20.8" font-family='"Liberation Sans", sans-serif' text-anchor="middle" textLength="41.8" lengthAdjust="spacingAndGlyphs" fill="#000" stroke="#000" stroke-width="0.45">1200</text>
<text x="289.5" y="436.3" font-size="20.8" font-family='"Liberation Sans", sans-serif' text-anchor="middle" textLength="41.8" lengthAdjust="spacingAndGlyphs" fill="#000" stroke="#000" stroke-width="0.45">1600</text>
<text x="363.77" y="436.3" font-size="20.8" font-family='"Liberation Sans", sans-serif' text-anchor="middle" textLength="41.8" lengthAdjust="spacingAndGlyphs" fill="#000" stroke="#000" stroke-width="0.45">2000</text>
<text x="438.03" y="436.3" font-size="20.8" font-family='"Liberation Sans", sans-serif' text-anchor="middle" textLength="41.8" lengthAdjust="spacingAndGlyphs" fill="#000" stroke="#000" stroke-width="0.45">2400</text>
<text x="627.7" y="435" font-size="20.8" font-family='"Liberation Sans", sans-serif' text-anchor="middle" textLength="31" lengthAdjust="spacingAndGlyphs" fill="#000" stroke="#000" stroke-width="0.45">400</text>
<text x="701.6" y="435" font-size="20.8" font-family='"Liberation Sans", sans-serif' text-anchor="middle" textLength="31" lengthAdjust="spacingAndGlyphs" fill="#000" stroke="#000" stroke-width="0.45">800</text>
<text x="775.51" y="435" font-size="20.8" font-family='"Liberation Sans", sans-serif' text-anchor="middle" textLength="41.8" lengthAdjust="spacingAndGlyphs" fill="#000" stroke="#000" stroke-width="0.45">1200</text>
<text x="849.41" y="435" font-size="20.8" font-family='"Liberation Sans", sans-serif' text-anchor="middle" textLength="41.8" lengthAdjust="spacingAndGlyphs" fill="#000" stroke="#000" stroke-width="0.45">1600</text>
<text x="923.32" y="435" font-size="20.8" font-family='"Liberation Sans", sans-serif' text-anchor="middle" textLength="41.8" lengthAdjust="spacingAndGlyphs" fill="#000" stroke="#000" stroke-width="0.45">2000</text>
<text x="997.22" y="435" font-size="20.8" font-family='"Liberation Sans", sans-serif' text-anchor="middle" textLength="41.8" lengthAdjust="spacingAndGlyphs" fill="#000" stroke="#000" stroke-width="0.45">2400</text>
<text x="146" y="465.4" font-size="20.5" font-family='"Liberation Sans", sans-serif' font-weight="bold" textLength="155" lengthAdjust="spacingAndGlyphs" fill="#000" stroke="#000" stroke-width="0.25">Wavelength [nm]</text>
<text x="707" y="463.8" font-size="20.5" font-family='"Liberation Sans", sans-serif' font-weight="bold" textLength="154" lengthAdjust="spacingAndGlyphs" fill="#000" stroke="#000" stroke-width="0.25">Wavelength [nm]</text>
<g transform="translate(19.9,295.2) rotate(-90)">
<text x="0" y="0" font-size="20.5" font-family='"Liberation Sans", sans-serif' font-weight="bold" textLength="135.5" lengthAdjust="spacingAndGlyphs" fill="#000" stroke="#000" stroke-width="0.25">Difference [%]</text>
</g>
<g transform="translate(582.2,293.0) rotate(-90)">
<text x="0" y="0" font-size="20.5" font-family='"Liberation Sans", sans-serif' font-weight="bold" textLength="135.5" lengthAdjust="spacingAndGlyphs" fill="#000" stroke="#000" stroke-width="0.25">Difference [%]</text>
</g>
<text x="171.7" y="345.7" font-size="15.4" font-family='"Liberation Sans", sans-serif' textLength="66.5" lengthAdjust="spacingAndGlyphs" fill="#62289a" stroke="#62289a" stroke-width="0.3">OLI Bands</text>
<text x="732.3" y="343.6" font-size="15.4" font-family='"Liberation Sans", sans-serif' textLength="65.5" lengthAdjust="spacingAndGlyphs" fill="#62289a" stroke="#62289a" stroke-width="0.3">OLI Bands</text>
<text x="72.1" y="383.3" font-size="12.5" font-family='"Liberation Sans", sans-serif' text-anchor="middle" fill="#62289a" stroke="#62289a" stroke-width="0.15">1</text>
<text x="82.5" y="383.3" font-size="12.5" font-family='"Liberation Sans", sans-serif' text-anchor="middle" fill="#62289a" stroke="#62289a" stroke-width="0.15">2</text>
<text x="94.8" y="383.3" font-size="12.5" font-family='"Liberation Sans", sans-serif' text-anchor="middle" fill="#62289a" stroke="#62289a" stroke-width="0.15">3</text>
<text x="112.7" y="383.3" font-size="12.5" font-family='"Liberation Sans", sans-serif' text-anchor="middle" fill="#62289a" stroke="#62289a" stroke-width="0.15">4</text>
<text x="152.2" y="383.3" font-size="12.5" font-family='"Liberation Sans", sans-serif' text-anchor="middle" fill="#62289a" stroke="#62289a" stroke-width="0.15">5</text>
<text x="247.1" y="383.3" font-size="12.5" font-family='"Liberation Sans", sans-serif' text-anchor="middle" fill="#62289a" stroke="#62289a" stroke-width="0.15">9</text>
<text x="289.9" y="383.3" font-size="12.5" font-family='"Liberation Sans", sans-serif' text-anchor="middle" fill="#62289a" stroke="#62289a" stroke-width="0.15">6</text>
<text x="400.4" y="383.3" font-size="12.5" font-family='"Liberation Sans", sans-serif' text-anchor="middle" fill="#62289a" stroke="#62289a" stroke-width="0.15">7</text>
<text x="632.7" y="383" font-size="12.5" font-family='"Liberation Sans", sans-serif' text-anchor="middle" fill="#62289a" stroke="#62289a" stroke-width="0.15">1</text>
<text x="642.5" y="383" font-size="12.5" font-family='"Liberation Sans", sans-serif' text-anchor="middle" fill="#62289a" stroke="#62289a" stroke-width="0.15">2</text>
<text x="655.2" y="383" font-size="12.5" font-family='"Liberation Sans", sans-serif' text-anchor="middle" fill="#62289a" stroke="#62289a" stroke-width="0.15">3</text>
<text x="673.1" y="383" font-size="12.5" font-family='"Liberation Sans", sans-serif' text-anchor="middle" fill="#62289a" stroke="#62289a" stroke-width="0.15">4</text>
<text x="712.2" y="383" font-size="12.5" font-family='"Liberation Sans", sans-serif' text-anchor="middle" fill="#62289a" stroke="#62289a" stroke-width="0.15">5</text>
<text x="807.1" y="383" font-size="12.5" font-family='"Liberation Sans", sans-serif' text-anchor="middle" fill="#62289a" stroke="#62289a" stroke-width="0.15">9</text>
<text x="848.9" y="383" font-size="12.5" font-family='"Liberation Sans", sans-serif' text-anchor="middle" fill="#62289a" stroke="#62289a" stroke-width="0.15">6</text>
<text x="958.4" y="383" font-size="12.5" font-family='"Liberation Sans", sans-serif' text-anchor="middle" fill="#62289a" stroke="#62289a" stroke-width="0.15">7</text>
<text x="247.4" y="505" font-size="28" font-family='"Liberation Serif", serif' text-anchor="middle" fill="#000">(<tspan font-weight="bold">a</tspan>)</text>
<text x="807.6" y="505" font-size="28" font-family='"Liberation Serif", serif' text-anchor="middle" fill="#000">(<tspan font-weight="bold">b</tspan>)</text>
</svg>
</body></html>
